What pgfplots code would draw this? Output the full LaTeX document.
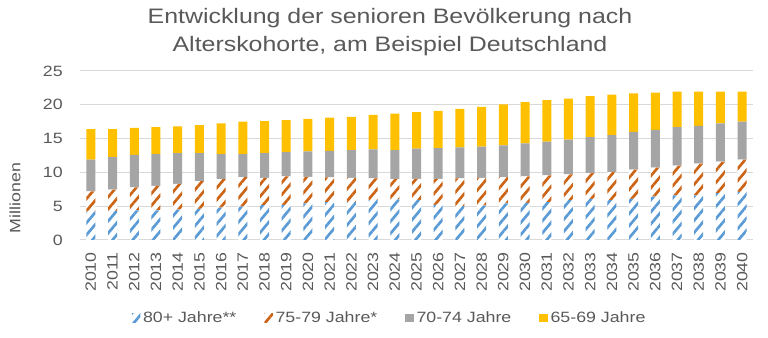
\documentclass[border=0pt]{standalone}
\usepackage{pgfplots}
\pgfplotsset{compat=1.18}
\usepackage{pgfplotstable}
\usepackage{fontspec}
\setmainfont{Liberation Sans}[FakeStretch=1.19]
\usetikzlibrary{patterns.meta}
\definecolor{txt}{HTML}{595959}
\definecolor{cblue}{HTML}{5B9BD5}
\definecolor{corange}{HTML}{CC6416}
\definecolor{cgray}{HTML}{A5A5A5}
\definecolor{cyellow}{HTML}{FFC000}
\definecolor{gridc}{HTML}{D9D9D9}

\pgfplotstableread{
year b o g y
2010 4.2 3.0 4.7 4.5
2011 4.3 3.15 4.8 4.15
2012 4.4 3.4 4.8 4.0
2013 4.4 3.6 4.7 4.0
2014 4.5 3.8 4.55 3.95
2015 4.6 4.1 4.15 4.15
2016 4.8 4.2 3.7 4.55
2017 4.95 4.35 3.4 4.8
2018 5.15 4.05 3.65 4.75
2019 5.2 4.2 3.6 4.75
2020 5.4 3.95 3.75 4.8
2021 5.6 3.65 3.95 4.9
2022 5.6 3.6 4.1 4.9
2023 5.9 3.2 4.3 5.1
2024 6.0 3.0 4.3 5.4
2025 5.9 3.15 4.45 5.4
2026 5.2 3.85 4.55 5.5
2027 5.0 4.1 4.6 5.7
2028 5.1 4.1 4.6 5.9
2029 5.4 3.9 4.7 6.05
2030 5.5 3.9 4.9 6.1
2031 5.6 3.95 5.0 6.15
2032 5.9 3.8 5.15 6.05
2033 6.1 3.8 5.3 6.1
2034 5.9 4.15 5.45 6.0
2035 6.1 4.3 5.6 5.7
2036 6.4 4.3 5.6 5.5
2037 6.6 4.4 5.7 5.25
2038 6.6 4.7 5.6 5.05
2039 6.95 4.65 5.65 4.7
2040 7.1 4.8 5.6 4.45
}\data

\pgfplotsset{
  hatch/.style={fill=white, draw=none,
    postaction={pattern={Lines[angle=50,distance=5.8pt,line width=2pt]}, pattern color=#1}},
  solidbar/.style={fill=#1, draw=none},
}

\begin{document}
\begin{tikzpicture}[font=\fontsize{11.2}{13}\selectfont, text=txt]
\path[use as bounding box] (0,0) rectangle (576pt,253.5pt);
\node[font=\fontsize{15.7}{19}\selectfont, text=txt] at (292.5pt,240pt) {Entwicklung der senioren Bevölkerung nach};
\node[font=\fontsize{15.7}{19}\selectfont, text=txt] at (292.5pt,219pt) {Alterskohorte, am Beispiel Deutschland};
\node[rotate=90, text=txt] at (11.25pt,105pt) {Millionen};
\begin{axis}[
  at={(60pt,73.5pt)}, anchor=south west,
  scale only axis, width=504.75pt, height=126.75pt,
  ybar stacked, bar width=6.75pt,
  xmin=2009.5, xmax=2040.5, ymin=0, ymax=25,
  xtick=data, ytick={0,5,...,25},
  axis line style={draw=none}, tick style={draw=none},
  ymajorgrids, major grid style={gridc, line width=0.75pt},
  /pgf/number format/assume math mode=true,
  /pgf/number format/1000 sep={},
  ticklabel style={font=\fontsize{11.2}{13}\selectfont, text=txt},
  x tick label style={yshift=-9pt, rotate=90, anchor=east, inner sep=0pt},
  y tick label style={anchor=east, inner sep=0pt, xshift=-12.75pt},
  legend style={at={(0.4606,-0.4615)}, anchor=center, draw=none, fill=none,
    font=\fontsize{11.2}{13}\selectfont, text=txt, inner sep=0pt,
    /tikz/every even column/.append style={column sep=19pt}},
  legend columns=4,
  legend image code/.code={\path[#1] (0pt,-3.2pt) rectangle (6.4pt,3.2pt);},
]
\addplot[hatch=cblue] table[x=year,y=b] {\data};
\addplot[hatch=corange] table[x=year,y=o] {\data};
\addplot[solidbar=cgray] table[x=year,y=g] {\data};
\addplot[solidbar=cyellow] table[x=year,y=y] {\data};
\legend{80+ Jahre**, 75-79 Jahre*, 70-74 Jahre, 65-69 Jahre}
\end{axis}
\end{tikzpicture}
\end{document}
